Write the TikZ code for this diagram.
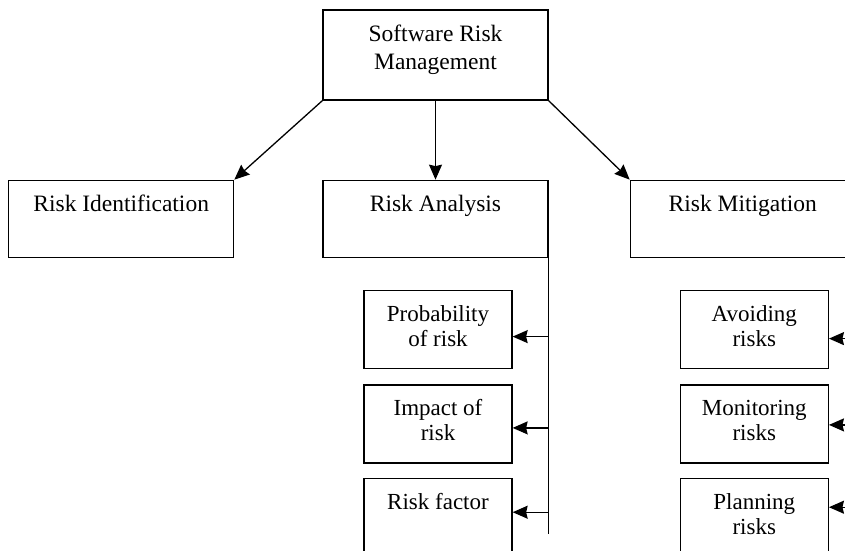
\documentclass[tikz,border=0pt]{standalone}
\usepackage{fontspec}
\setmainfont{Liberation Serif}
\usetikzlibrary{arrows.meta,positioning}

\begin{document}
\begin{tikzpicture}[x=1pt, y=1pt, line width=1.3pt,
  font=\fontsize{23.5}{28}\selectfont,
  box/.style={draw, inner sep=0pt, minimum width=225pt, align=center,
    text height=31pt, text depth=46pt},
  sub/.style={draw, inner sep=0pt, minimum width=148pt, align=center,
    text height=56pt, text depth=22pt, font=\fontsize{23}{25}\selectfont},
  arr/.style={-{Stealth[length=15pt, width=13pt, inset=1.5pt]}}]
  \useasboundingbox (0,0) rectangle (845,-550);

  \node[box, text height=59pt, text depth=31pt] (srm) at (435.5,-55) {Software Risk\\Management};
  \node[box, below=79pt of srm] (anal) {Risk Analysis};
  \node[box, left=88pt of anal] (ident) {Risk Identification};
  \node[box, right=81pt of anal] (mitig) {Risk Mitigation};

  \draw[arr] (srm.south west) -- (ident.north east);
  \draw[arr] (srm.south) -- (anal.north);
  \draw[arr] (srm.south east) -- (mitig.north west);

  % analysis branch
  \draw (anal.south east) -- ++(0,-276);
  \node[sub, below left=32pt and 36pt of anal.south east] (prob) {Probability\\of risk};
  \node[sub, below=15pt of prob] (impact) {Impact of\\risk};
  \node[sub, below=14pt of impact, text height=31pt, text depth=47pt] (factor) {Risk factor};
  \foreach \n/\dy in {prob/-7, impact/-4, factor/5}
    \draw[arr] ([shift={(36,\dy)}]\n.east) -- ([yshift=\dy pt]\n.east);

  % mitigation branch
  \node[sub, below left=32pt and 27pt of mitig.south east] (avoid) {Avoiding\\risks};
  \node[sub, below=15pt of avoid] (monitor) {Monitoring\\risks};
  \node[sub, below=14pt of monitor] (plan) {Planning\\risks};
  \foreach \n/\dy in {avoid/-9, monitor/-1, plan/10}
    \draw[arr] ([shift={(27,\dy)}]\n.east) -- ([yshift=\dy pt]\n.east);
\end{tikzpicture}
\end{document}
